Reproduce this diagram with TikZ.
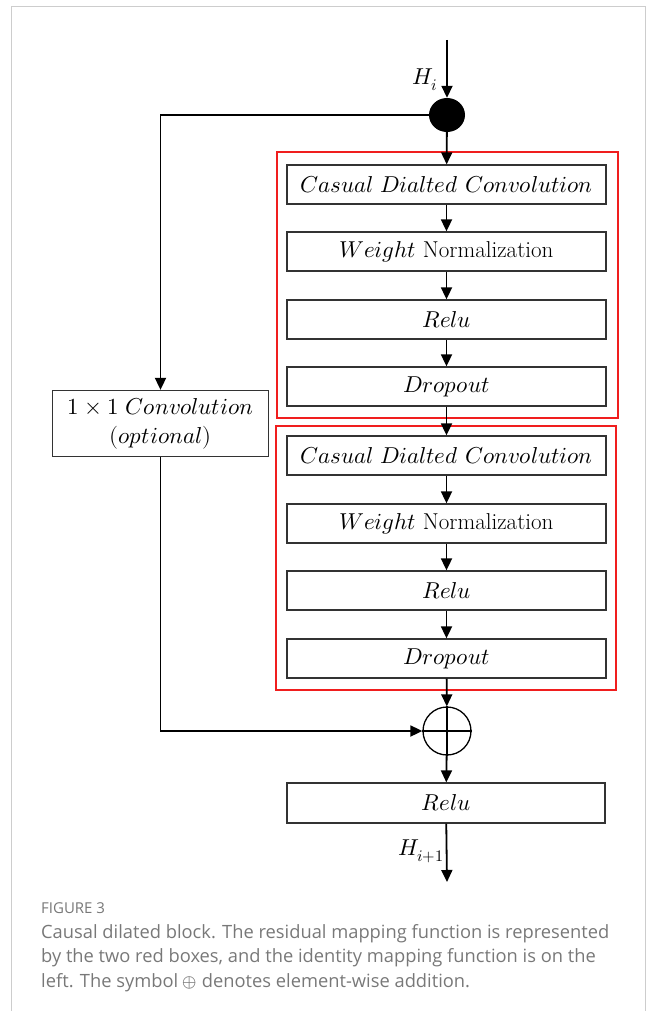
\documentclass[tikz,border=0pt]{standalone}
\usepackage{fontspec}
\usepackage{unicode-math}
\newfontfamily\capfont{Open Sans}
\usetikzlibrary{arrows.meta,shapes.geometric}
\definecolor{capgray}{RGB}{120,120,120}
\definecolor{framegray}{RGB}{205,205,205}
\definecolor{boxred}{RGB}{240,30,30}
\begin{document}
\begin{tikzpicture}[x=1pt,y=-1pt,
  blk/.style={draw=black!80, line width=1.3pt, minimum width=319pt, minimum height=39pt, inner sep=0pt, font=\fontsize{23}{25}\selectfont},
  arr/.style={line width=1.8pt, -{Triangle[length=12pt,width=11pt]}},
  redbox/.style={draw=boxred, line width=1.2pt, inner sep=0pt},
  lbl/.style={font=\fontsize{23}{25}\selectfont, inner sep=0pt}]
\useasboundingbox (0,0) rectangle (656,1011);
\draw[framegray, line width=1pt] (11,1011) -- (11,7) -- (645,7) -- (645,1011);

\node[redbox, minimum width=341pt, minimum height=266pt] (g1) at (447.5,285) {};
\node[redbox, minimum width=340pt, minimum height=264pt] (g2) at (446,558) {};

\node[blk] (c1) at (446.5,184.5) {$Casual\ Dialted\ Convolution$};
\node[blk] (w1) at (446.5,251.5) {$Weight$ Normalization};
\node[blk] (r1) at (446.5,319.5) {$Relu$};
\node[blk] (d1) at (446.5,386.5) {$Dropout$};
\node[blk] (c2) at (446.5,455.5) {$Casual\ Dialted\ Convolution$};
\node[blk] (w2) at (446.5,523.5) {$Weight$ Normalization};
\node[blk] (r2) at (446.5,590.5) {$Relu$};
\node[blk] (d2) at (446.5,658.5) {$Dropout$};
\node[blk, minimum width=318pt, minimum height=40pt] (r3) at (446,803) {$Relu$};

\node[blk, minimum width=216pt, minimum height=66pt, align=center] (opt) at (160.5,423.5) {$1\times 1\ Convolution$\\[4pt]$(optional)$};

\node[ellipse, fill=black, minimum width=36pt, minimum height=34pt, inner sep=0pt] (dot) at (447,115) {};
\node[circle, draw=black, line width=1.3pt, minimum size=48pt, inner sep=0pt] (plus) at (447,731) {};
\draw[line width=1.3pt] (plus.north) -- (plus.south) (plus.west) -- (plus.east);

\coordinate (in) at (447,40);
\coordinate (out) at (447,882);
\node[lbl] at (425,80) {$H_i$};
\node[lbl] at (421,851) {$H_{i+1}$};

\draw[arr] (in) -- (dot);
\draw[arr] (dot) -- (c1);
\draw[arr] (c1) -- (w1);
\draw[arr] (w1) -- (r1);
\draw[arr] (r1) -- (d1);
\draw[arr] (d1) -- (c2);
\draw[arr] (c2) -- (w2);
\draw[arr] (w2) -- (r2);
\draw[arr] (r2) -- (d2);
\draw[arr] (d2) -- (plus);
\draw[arr] (plus) -- (r3);
\draw[arr] (r3) -- (out);
\draw[arr] (dot.west) -| (opt.north);
\draw[arr] (opt.south) |- (plus.west);

\node[anchor=base west, text=capgray, inner sep=0pt, font=\capfont\fontsize{15}{17}\selectfont] (fig) at (41,913) {FIGURE 3};
\node[anchor=north west, align=left, text=capgray, inner sep=0pt, font=\capfont\fontsize{18.3}{24.5}\selectfont] (cap) at (41,924) {Causal dilated block. The residual mapping function is represented\\by the two red boxes, and the identity mapping function is on the\\left. The symbol $\oplus$ denotes element-wise addition.};
\end{tikzpicture}
\end{document}
